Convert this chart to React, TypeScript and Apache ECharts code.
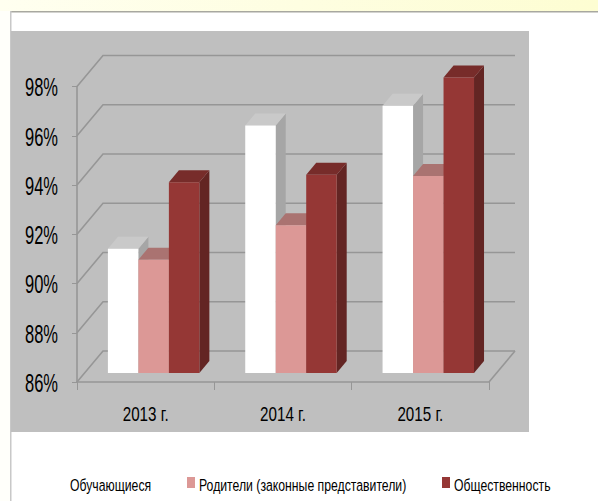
import React, { useEffect, useRef } from "react";
import * as echarts from "echarts";

const categories = ["2013 г.", "2014 г.", "2015 г."];
const seriesNames = ["Обучающиеся", "Родители (законные представители)", "Общественность"];
const students = [91.05, 96.05, 96.85];
const parents = [90.6, 92.0, 94.0];
const community = [93.75, 94.05, 98.0];
const yTicks = [86, 88, 90, 92, 94, 96, 98];
const FONT = "'Liberation Sans', Arial, sans-serif";

const WALL_DX = 26;
const WALL_DY = -31;
const BAR_DX = 10;
const BAR_DY = -12;
const LINE = "#969696";

function wallItem(params: any, api: any) {
  const v = api.value(0);
  const p = api.coord([0, v]);
  const left = params.coordSys.x;
  const right = left + params.coordSys.width;
  const children: any[] = [
    {
      type: "polyline",
      shape: { points: [[left, p[1]], [left + WALL_DX, p[1] + WALL_DY], [right + WALL_DX, p[1] + WALL_DY]] },
      style: { stroke: LINE, lineWidth: 1.6, fill: "none" },
    },
  ];
  if (v === yTicks[0]) {
    children.push({
      type: "line",
      shape: { x1: right, y1: p[1], x2: right + WALL_DX, y2: p[1] + WALL_DY },
      style: { stroke: LINE, lineWidth: 1.6 },
    });
  }
  return { type: "group", children };
}

function yLabelItem(params: any, api: any) {
  const v = api.value(0);
  const p = api.coord([0, v]);
  return {
    type: "text",
    x: params.coordSys.x - 19,
    y: p[1] + 1,
    scaleX: 0.66,
    style: {
      text: v + "%",
      font: `25px ${FONT}`,
      fill: "#000",
      align: "right",
      verticalAlign: "middle",
    },
  };
}

function xLabelItem(_params: any, api: any) {
  const i = api.value(0);
  const p = api.coord([i, yTicks[0]]);
  return {
    type: "text",
    x: p[0],
    y: p[1] + 32,
    scaleX: 0.76,
    style: {
      text: categories[i],
      font: `20px ${FONT}`,
      fill: "#000",
      align: "center",
      verticalAlign: "middle",
    },
  };
}

function barRender(seriesIndex: number, front: string, top: string, side: string) {
  return (_params: any, api: any) => {
    const idx = api.value(0);
    const band = api.size([1, 0])[0];
    const w = band * 0.222;
    const c = api.coord([idx, api.value(1)]);
    const base = api.coord([idx, yTicks[0]]);
    const cx = c[0] + band * 0.058;
    const x0 = cx + (seriesIndex - 1.5) * w;
    const x1 = x0 + w;
    const yt = c[1] - 9;
    const yb = base[1] - 9;
    return {
      type: "group",
      children: [
        {
          type: "polygon",
          shape: { points: [[x1, yt], [x1 + BAR_DX, yt + BAR_DY], [x1 + BAR_DX, yb + BAR_DY], [x1, yb]] },
          style: { fill: side },
        },
        {
          type: "polygon",
          shape: { points: [[x0, yt], [x0 + BAR_DX, yt + BAR_DY], [x1 + BAR_DX, yt + BAR_DY], [x1, yt]] },
          style: { fill: top },
        },
        { type: "rect", shape: { x: x0, y: yt, width: w, height: yb - yt }, style: { fill: front } },
      ],
    };
  };
}

function barSeries(name: string, values: number[], i: number, front: string, top: string, side: string) {
  return {
    name,
    type: "custom",
    coordinateSystem: "cartesian2d",
    z: 5 + i,
    itemStyle: { color: front },
    encode: { x: 0, y: 1 },
    data: values.map((v, k) => [k, v]),
    renderItem: barRender(i, front, top, side),
  };
}

function legendText(text: string, x: number) {
  return {
    type: "text",
    x,
    y: 485,
    scaleX: 0.72,
    z: 20,
    style: { text, font: `17px ${FONT}`, fill: "#000", align: "left", verticalAlign: "middle" },
  };
}

export default function App() {
  const ref = useRef<HTMLDivElement>(null);
  useEffect(() => {
    document.body.style.margin = "0";
    const chart = echarts.init(ref.current!, null, { renderer: "svg" });
    chart.setOption({
      animation: false,
      backgroundColor: "#ffffff",
      graphic: [
        {
          type: "rect",
          z: -10,
          shape: { x: 0, y: 0, width: 598, height: 11 },
          style: {
            fill: new echarts.graphic.LinearGradient(0, 0, 1, 0, [
              { offset: 0, color: "#fffff0" },
              { offset: 1, color: "#fdfdd2" },
            ]),
          },
        },
        { type: "rect", z: -10, shape: { x: 0, y: 11, width: 10, height: 490 }, style: { fill: "#fffffa" } },
        { type: "rect", z: -9, shape: { x: 10, y: 11, width: 588, height: 1.5 }, style: { fill: "#a8a8a0" } },
        { type: "rect", z: -9, shape: { x: 10, y: 11, width: 1.5, height: 490 }, style: { fill: "#c8c8c8" } },
        { type: "rect", z: -8, shape: { x: 11, y: 31, width: 518, height: 401 }, style: { fill: "#bfbfbf" } },
        legendText(seriesNames[0], 70),
        { type: "rect", z: 20, shape: { x: 187, y: 477, width: 8, height: 11 }, style: { fill: "#dc9896" } },
        legendText(seriesNames[1], 199),
        { type: "rect", z: 20, shape: { x: 442, y: 477, width: 8, height: 11 }, style: { fill: "#953735" } },
        legendText(seriesNames[2], 454),
      ],
      grid: { left: 77, top: 86.5, width: 412, height: 295.5, containLabel: false },
      xAxis: {
        type: "category",
        data: categories,
        axisLine: { lineStyle: { color: LINE, width: 1.6 } },
        axisTick: { show: true, length: 8, lineStyle: { color: LINE } },
        axisLabel: { show: false },
      },
      yAxis: {
        type: "value",
        min: 86,
        max: 98,
        interval: 2,
        axisLine: { show: true, lineStyle: { color: LINE, width: 1.6 } },
        axisTick: { show: true, length: 5, lineStyle: { color: LINE } },
        splitLine: { show: false },
        axisLabel: { show: false },
      },
      series: [
        {
          name: "walls",
          type: "custom",
          coordinateSystem: "cartesian2d",
          z: 1,
          encode: { y: 0 },
          data: yTicks.map((v) => [v]),
          renderItem: wallItem,
        },
        {
          name: "yLabels",
          type: "custom",
          coordinateSystem: "cartesian2d",
          z: 2,
          encode: { y: 0 },
          data: yTicks.map((v) => [v]),
          renderItem: yLabelItem,
        },
        {
          name: "xLabels",
          type: "custom",
          coordinateSystem: "cartesian2d",
          z: 2,
          encode: { x: 0 },
          data: categories.map((_c, i) => [i]),
          renderItem: xLabelItem,
        },
        barSeries(seriesNames[0], students, 0, "#ffffff", "#c9c9c9", "#a6a6a6"),
        barSeries(seriesNames[1], parents, 1, "#dc9896", "#aa7371", "#aa7371"),
        barSeries(seriesNames[2], community, 2, "#953735", "#772c2a", "#632523"),
      ],
    });
    return () => chart.dispose();
  }, []);
  return <div ref={ref} style={{ width: 598, height: 501 }} />;
}
